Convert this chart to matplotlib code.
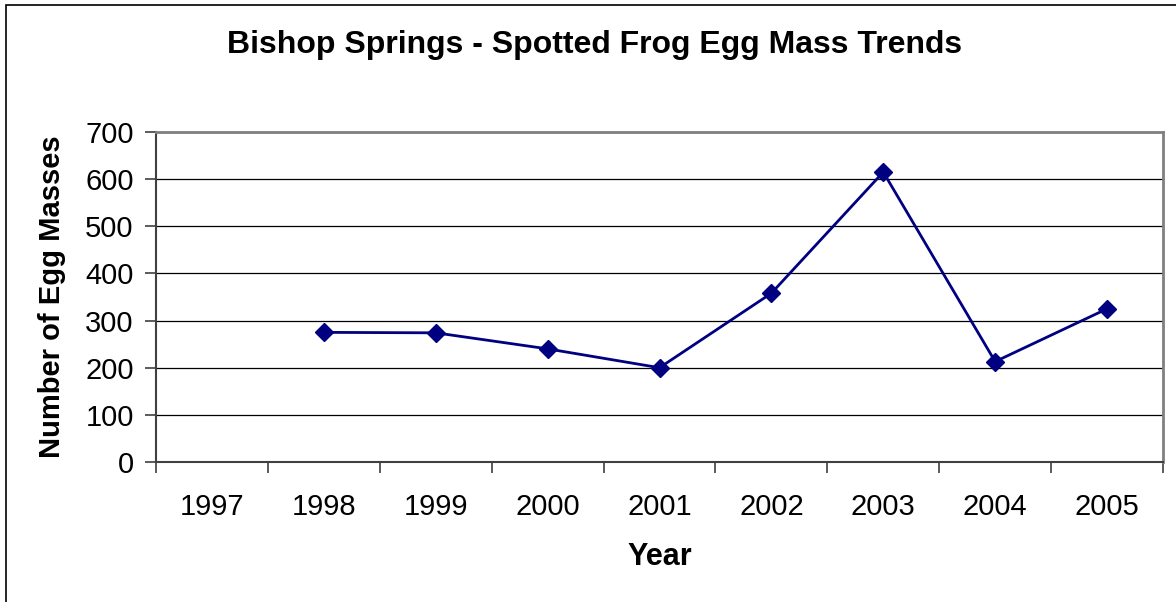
import matplotlib
matplotlib.use("Agg")
import matplotlib.pyplot as plt
from matplotlib.patches import Rectangle

# data
years = ["1997", "1998", "1999", "2000", "2001", "2002", "2003", "2004", "2005"]
egg_years = ["1998", "1999", "2000", "2001", "2002", "2003", "2004", "2005"]
egg_masses = [275, 274, 240, 200, 358, 615, 213, 325]
y_ticks = [0, 100, 200, 300, 400, 500, 600, 700]

plt.rcParams['font.family'] = ['Liberation Sans', 'DejaVu Sans']

fig = plt.figure(figsize=(11.76, 6.02), dpi=100)
ax = fig.add_axes([156 / 1176, 1 - 462 / 602, (1163 - 156) / 1176, (462 - 132) / 602])

# outer chart frame (right and bottom edges run off the picture)
fig.patches.append(Rectangle((6 / 1176, -0.2), 1.2, 1.2 - 5 / 602,
                             transform=fig.transFigure, fill=False,
                             edgecolor='black', linewidth=1.2))

xpos = [years.index(y) for y in egg_years]
ax.plot(xpos, egg_masses, color='#000080', linewidth=2,
        marker='D', markersize=9, markerfacecolor='#000080',
        markeredgecolor='#000080', zorder=3)

ax.set_xlim(-0.5, len(years) - 0.5)
ax.set_ylim(0, 700)
ax.set_yticks(y_ticks)
ax.set_yticklabels([str(v) for v in y_ticks], fontsize=21)
ax.yaxis.grid(True, color='black', linewidth=0.9)
ax.set_axisbelow(True)

# categories: tick marks between years, labels in the middle
ax.set_xticks([i - 0.5 for i in range(len(years) + 1)])
ax.set_xticklabels([])
ax.set_xticks(range(len(years)), minor=True)
ax.set_xticklabels(years, minor=True, fontsize=21)
ax.tick_params(axis='x', which='major', direction='out', length=8, width=1.2, color='#404040')
ax.tick_params(axis='x', which='minor', length=0, pad=22)
ax.tick_params(axis='y', direction='out', length=8, width=1.2, color='#404040', pad=8)

for s in ['top', 'right']:
    ax.spines[s].set_color('#808080')
    ax.spines[s].set_linewidth(2)
for s in ['left', 'bottom']:
    ax.spines[s].set_color('#404040')
    ax.spines[s].set_linewidth(1.5)

fig.text(595 / 1176, 1 - 45 / 602, "Bishop Springs - Spotted Frog Egg Mass Trends",
         ha='center', va='center', fontsize=23, fontweight='bold')
fig.text(660 / 1176, 1 - 557 / 602, "Year", ha='center', va='center',
         fontsize=22, fontweight='bold')
fig.text(52 / 1176, 1 - 297 / 602, "Number of Egg Masses", ha='center', va='center',
         rotation=90, fontsize=21, fontweight='bold')

fig.savefig("out.png", dpi=100, facecolor='white')
